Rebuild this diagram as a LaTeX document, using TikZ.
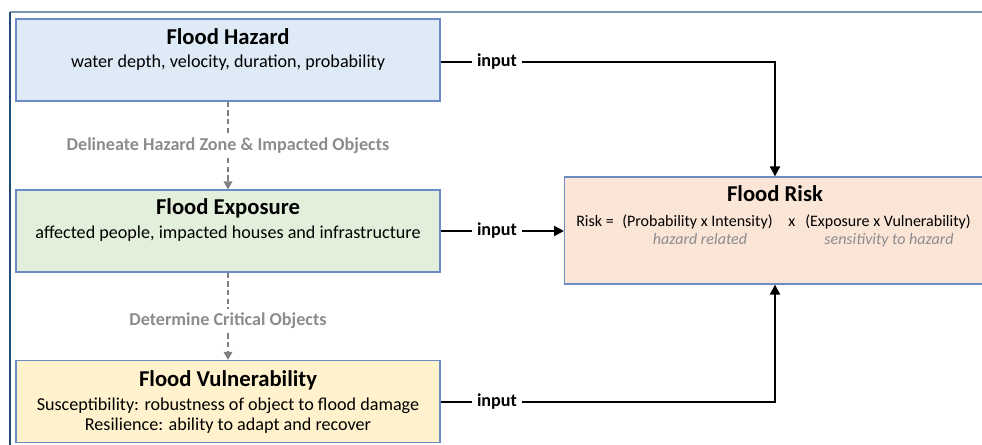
\documentclass[tikz,border=0pt]{standalone}
\usepackage{fontspec}
\setmainfont{Carlito}
\usetikzlibrary{arrows.meta,positioning}

\definecolor{hazardfill}{RGB}{222,235,247}
\definecolor{exposurefill}{RGB}{226,239,218}
\definecolor{vulnfill}{RGB}{255,242,204}
\definecolor{riskfill}{RGB}{251,229,214}
\definecolor{boxline}{RGB}{108,138,196}
\definecolor{frametop}{RGB}{122,152,172}
\definecolor{frameleft}{RGB}{31,78,121}
\definecolor{stepgray}{RGB}{128,128,128}
\definecolor{notegray}{RGB}{140,140,140}

\tikzset{
  floodbox/.style={draw=boxline, line width=0.9pt, minimum width=318pt, minimum height=61.5pt, inner sep=0pt},
  boxtitle/.style={font=\fontsize{17}{20}\selectfont\bfseries, inner sep=0pt},
  boxtext/.style={font=\fontsize{13.6}{16}\selectfont, inner sep=0pt},
  riskterm/.style={font=\fontsize{12}{14}\selectfont, inner sep=0pt},
  risknote/.style={font=\fontsize{12}{14}\selectfont\itshape, text=notegray, inner sep=0pt},
  inputlabel/.style={font=\fontsize{13.6}{16}\selectfont\bfseries, inner xsep=3.5pt, inner ysep=0pt},
  steplabel/.style={font=\fontsize{13.6}{16}\selectfont\bfseries, text=notegray, inner xsep=0pt, inner ysep=3pt},
  feed/.style={line width=1.5pt},
  feedarrow/.style={feed, -{Triangle[length=7.5pt,width=7.5pt]}},
  dashline/.style={line width=1.1pt, color=stepgray, dash pattern=on 4pt off 2.5pt},
  derive/.style={dashline, -{Triangle[length=6pt,width=6.5pt]}},
}

\begin{document}
\begin{tikzpicture}[x=0.75pt, y=-0.75pt]
			%%%%% START %%%%%
			\useasboundingbox (0,0) rectangle (982,445);
			\clip (0,0) rectangle (982,445);
			
			\draw[line width=1.5pt, color=frametop] (10,12) -- (990,12);
			\draw[line width=1.1pt, color=frameleft] (10,12) -- (10,450);
			
			% hazard
			\node[floodbox, fill=hazardfill] (haz) at (228,60) {};
			\node[boxtitle, anchor=base] (hazT) at (228,45) {Flood Hazard};
			\node[boxtext, anchor=base] (hazS) at (228,68) {water depth, velocity, duration, probability};
			
			% exposure
			\node[floodbox, fill=exposurefill] (exp) at (228,231) {};
			\node[boxtitle, anchor=base] (expT) at (228,215) {Flood Exposure};
			\node[boxtext, anchor=base] (expS) at (228,239) {affected people, impacted houses and infrastructure};
			
			% vulnerability
			\node[floodbox, fill=vulnfill] (vul) at (228,401.5) {};
			\node[boxtitle, anchor=base] (vulT) at (228,387) {Flood Vulnerability};
			\node[boxtext, anchor=base] (vulS) at (228,410) {Susceptibility: robustness of object to flood damage};
			\node[boxtext, anchor=base] (vulR) at (228,431) {Resilience: ability to adapt and recover};
			
			% risk (runs past the right edge)
			\node[floodbox, fill=riskfill, anchor=west, minimum width=345pt, minimum height=80.25pt] (risk) at (564,230.5) {};
			\node[boxtitle, anchor=base] (riskT) at (775,202) {Flood Risk};
			\node[riskterm, anchor=base west] (rEq) at (576,227) {Risk =};
			\node[riskterm, anchor=base west] (rHaz) at (622,227) {(Probability x Intensity)};
			\node[riskterm, anchor=base west] (rTimes) at (788,227) {x};
			\node[riskterm, anchor=base west] (rSens) at (805,227) {(Exposure x Vulnerability)};
			\node[risknote, anchor=base] (nHaz) at (700,245) {hazard related};
			\node[risknote, anchor=base] (nSens) at (889,245) {sensitivity to hazard};
			
			% steps between the boxes
			\node[steplabel] (delin) at (228,146) {Delineate Hazard Zone \& Impacted Objects};
			\draw[dashline] (haz.south) -- (delin.north);
			\draw[derive] (delin.south) -- (exp.north);
			
			\node[steplabel] (crit) at (228,321) {Determine Critical Objects};
			\draw[dashline] (exp.south) -- (crit.north);
			\draw[derive] (crit.south) -- (vul.north);
			
			% inputs
			\node[inputlabel] (inHaz) at (497,62) {input};
			\draw[feed] (haz.east |- inHaz.west) -- (inHaz.west);
			\draw[feedarrow] (inHaz.east) -| (riskT |- risk.north);
			
			\node[inputlabel] (inExp) at (497,231) {input};
			\draw[feed] (exp.east |- inExp.west) -- (inExp.west);
			\draw[feedarrow] (inExp.east) -- (risk.west |- inExp.east);
			
			\node[inputlabel] (inVul) at (497,402) {input};
			\draw[feed] (vul.east |- inVul.west) -- (inVul.west);
			\draw[feedarrow] (inVul.east) -| (riskT |- risk.south);
			
			%%%%% END %%%%%
		\end{tikzpicture}
\end{document}
